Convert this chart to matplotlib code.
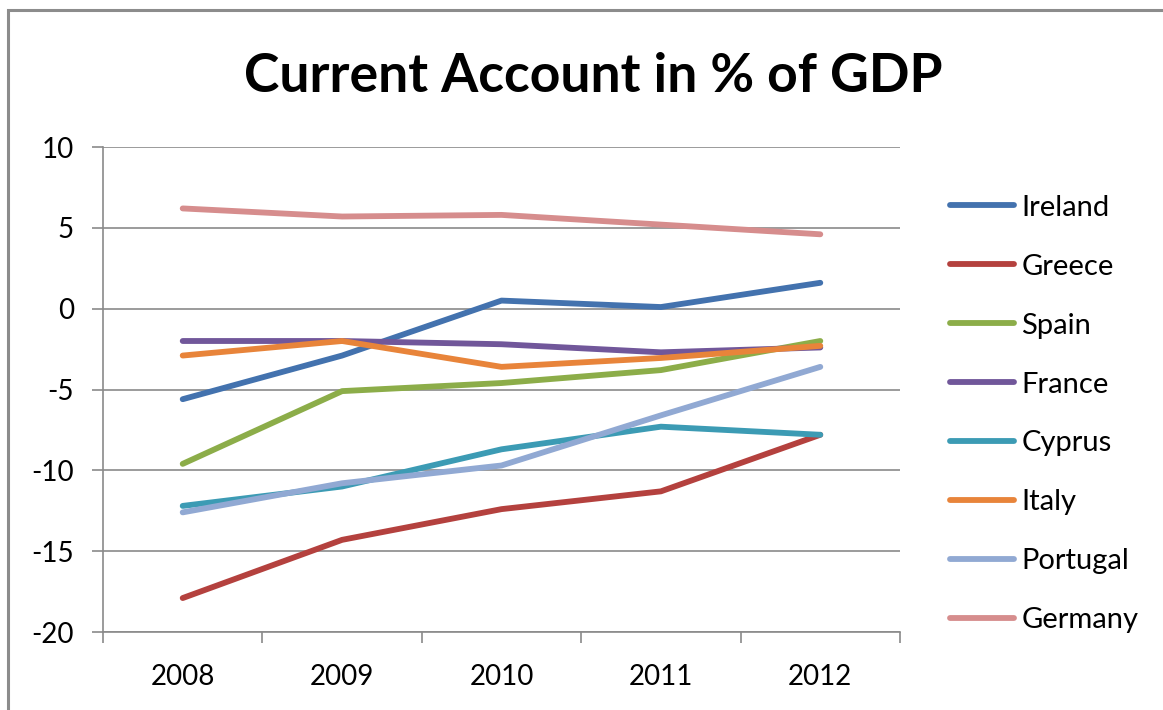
import matplotlib.pyplot as plt
from matplotlib.patches import Rectangle
import numpy as np

years = ['2008', '2009', '2010', '2011', '2012']
countries = ['Ireland', 'Greece', 'Spain', 'France', 'Cyprus', 'Italy', 'Portugal', 'Germany']

ireland = [-5.6, -2.9, 0.5, 0.1, 1.6]
greece = [-17.9, -14.3, -12.4, -11.3, -7.8]
spain = [-9.6, -5.1, -4.6, -3.8, -2.0]
france = [-2.0, -2.0, -2.2, -2.7, -2.4]
cyprus = [-12.2, -11.0, -8.7, -7.3, -7.8]
italy = [-2.9, -2.0, -3.6, -3.05, -2.3]
portugal = [-12.6, -10.8, -9.7, -6.6, -3.6]
germany = [6.2, 5.7, 5.8, 5.2, 4.6]

series = [ireland, greece, spain, france, cyprus, italy, portugal, germany]
colors = ['#4372AE', '#B4413E', '#8CAD49', '#71579A', '#3C9BB4', '#E8843A', '#91A9D3', '#D68D8D']

plt.rcParams['font.family'] = 'Lato'
plt.rcParams['axes.unicode_minus'] = False

fig = plt.figure(figsize=(11.63, 7.1), dpi=100)
# outer chart border
fig.patches.append(Rectangle((8/1163, -0.05), 1.2, 1 - 10/710 + 0.05, transform=fig.transFigure,
                             fill=False, edgecolor='#8c8c8c', linewidth=2.2))

ax = fig.add_axes([103/1163, 1 - 632/710, 797/1163, 485/710])
x = np.arange(len(years))
for vals, c, name in zip(series, colors, countries):
    ax.plot(x, vals, color=c, lw=4.2, solid_capstyle='round', solid_joinstyle='round', label=name)

ax.set_xlim(-0.5, 4.5)
ax.set_ylim(-20, 10)
ax.set_yticks(np.arange(-20, 11, 5))
ax.set_xticks(x)
ax.set_xticklabels(years)
ax.set_xticks(np.arange(-0.5, 4.6, 1), minor=True)

grid_c = '#8a8a8a'
ax.yaxis.grid(True, color=grid_c, lw=1.2)
ax.set_axisbelow(True)
for s in ['top', 'right']:
    ax.spines[s].set_visible(False)
for s in ['left', 'bottom']:
    ax.spines[s].set_color(grid_c)
    ax.spines[s].set_linewidth(1.2)

ax.tick_params(axis='y', direction='out', length=8, width=1.2, color=grid_c, pad=13, labelsize=20)
ax.tick_params(axis='x', which='major', length=0, pad=23, labelsize=20)
ax.tick_params(axis='x', which='minor', direction='out', length=8, width=1.2, color=grid_c)

fig.text(0.51, 1 - 77/710, 'Current Account in % of GDP', ha='center', va='center',
         fontsize=38.5, fontweight='bold')

fig.legend(loc='center left', bbox_to_anchor=(950/1163, 1 - 414/710), frameon=False,
           fontsize=21, handlelength=2.2, handletextpad=0.25, labelspacing=1.13,
           borderpad=0, borderaxespad=0)

fig.savefig('out.png', dpi=100)
